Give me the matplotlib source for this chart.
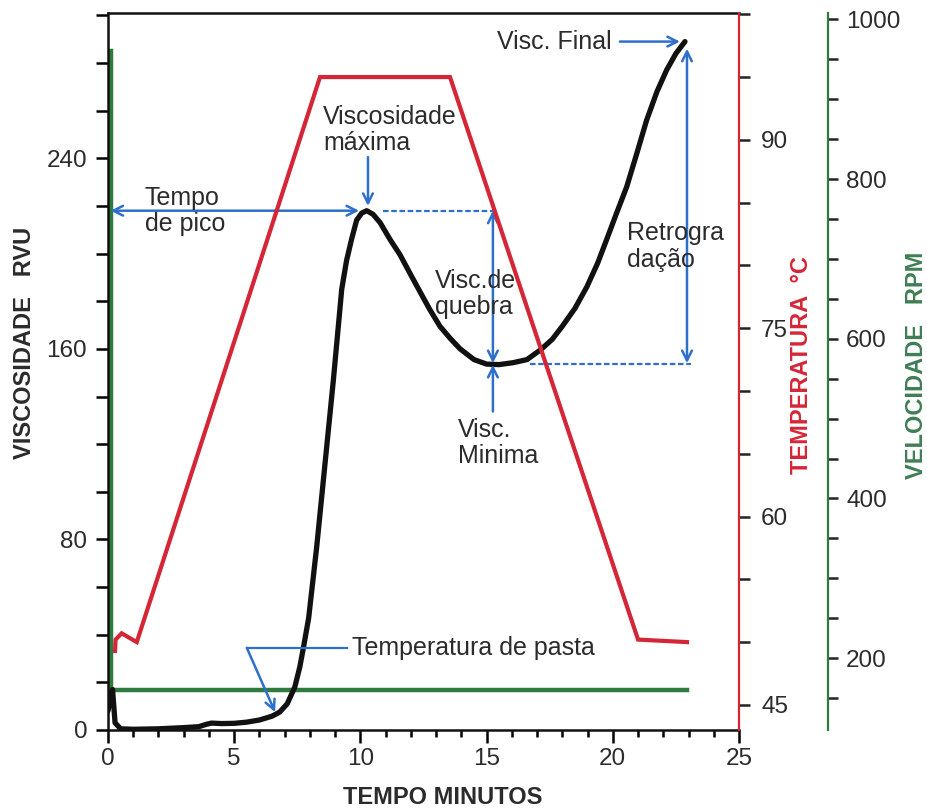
import matplotlib
matplotlib.use('Agg')
import matplotlib.pyplot as plt
from matplotlib.ticker import MultipleLocator

plt.rcParams['font.family'] = ['Liberation Sans', 'DejaVu Sans']

# ---------------- data ----------------
time_visc = [0.0, 0.1, 0.18, 0.28, 0.5, 1.0, 2.0, 3.0, 3.6, 3.9, 4.1, 4.5, 5.0, 5.5,
             6.0, 6.5, 6.8, 7.1, 7.4, 7.6, 7.75, 7.95, 8.27, 8.6, 8.93, 9.26,
             9.45, 9.65, 9.85, 10.05, 10.25, 10.5, 10.78, 11.17, 11.57, 12.0, 12.36,
             12.75, 13.15, 13.55, 13.95, 14.5, 15.0, 15.5, 16.05, 16.6, 17.15, 17.6,
             18.0, 18.5, 18.97, 19.4, 19.76, 20.15, 20.55, 20.95, 21.34, 21.75,
             22.13, 22.5, 22.86]
visc_rvu = [8, 14, 17, 3, 0.5, 0.3, 0.5, 1.0, 1.4, 2.4, 2.9, 2.7, 2.8, 3.3,
            4.2, 5.8, 7.5, 11, 18, 26.5, 35, 47, 77, 112, 147, 185,
            197, 206, 214, 217, 218, 216.5, 213, 206, 199.5, 191, 184,
            176.5, 169.5, 164.5, 160, 155.5, 153.6, 153.4, 154.2, 155.5, 159.7, 164,
            169.5, 177, 186, 196, 206, 217, 228, 242, 256, 268,
            277, 284, 289]

time_temp = [0.28, 0.3, 0.54, 1.14, 8.4, 13.55, 21.0, 22.94]
temp_c = [49.3, 50.2, 50.7, 50.0, 95.0, 95.0, 50.2, 50.0]

time_rpm = [0.12, 0.12, 22.94]
speed_rpm = [960, 160, 160]

# annotated characteristic points (min, RVU)
peak_time, peak_visc = 10.25, 218
min_time, min_visc = 15.25, 153.5
final_time, final_visc = 22.9, 289
paste_time, paste_visc = 6.62, 7.5

# ---------------- style ----------------
RED = '#d42636'
GREEN = '#2f7a3e'
GREEN_TXT = '#3f7f55'
BLUE = '#2f6fcc'
TXT = '#2b2b2b'

fig = plt.figure(figsize=(9.28, 8.09), dpi=100)
fig.patch.set_facecolor('white')
ax1 = fig.add_axes([108/928, 1-730/809, (739-108)/928, (730-13)/809])
ax2 = ax1.twinx()
ax3 = ax1.twinx()

ax3.set_zorder(1)
ax1.set_zorder(2)
ax2.set_zorder(3)
ax1.patch.set_visible(False)
ax2.patch.set_visible(False)
ax3.patch.set_visible(False)

# curves
ax3.plot(time_rpm, speed_rpm, color=GREEN, lw=3.2, solid_joinstyle='miter')
ax1.plot(time_visc, visc_rvu, color='#111111', lw=3.8, solid_joinstyle='round',
         solid_capstyle='round')
ax2.plot(time_temp, temp_c, color=RED, lw=3.0, solid_joinstyle='miter')

# limits
ax1.set_xlim(0, 25)
ax1.set_ylim(0, 301)
ax2.set_ylim(43, 100.1)
ax3.set_ylim(110, 1008)

# spines
for s in ['left', 'bottom', 'top']:
    ax1.spines[s].set_color('#111111')
    ax1.spines[s].set_linewidth(1.8)
ax1.spines['right'].set_visible(False)
for s in ['left', 'bottom', 'top']:
    ax2.spines[s].set_visible(False)
    ax3.spines[s].set_visible(False)
ax2.spines['right'].set_color(RED)
ax2.spines['right'].set_linewidth(1.6)
ax3.spines['right'].set_position(('axes', (828-108)/(739-108)))
ax3.spines['right'].set_color(GREEN)
ax3.spines['right'].set_linewidth(1.6)

# ticks
ax1.xaxis.set_major_locator(MultipleLocator(5))
ax1.xaxis.set_minor_locator(MultipleLocator(1))
ax1.yaxis.set_major_locator(MultipleLocator(80))
ax1.yaxis.set_minor_locator(MultipleLocator(20))
ax1.tick_params(axis='x', which='major', length=9, width=1.8, direction='out',
                labelsize=17.5, labelcolor=TXT, pad=4)
ax1.tick_params(axis='x', which='minor', length=5, width=1.8, direction='out')
ax1.tick_params(axis='y', which='both', length=9, width=1.8, direction='out',
                labelsize=17.5, labelcolor=TXT, pad=6)

ax2.yaxis.set_major_locator(MultipleLocator(15))
ax2.yaxis.set_minor_locator(MultipleLocator(5))
ax2.tick_params(axis='y', which='both', length=8, width=1.8, direction='out',
                color='#222222', labelsize=17.5, labelcolor=TXT, pad=8)

ax3.yaxis.set_major_locator(MultipleLocator(200))
ax3.yaxis.set_minor_locator(MultipleLocator(50))
ax3.tick_params(axis='y', which='both', length=7, width=1.8, direction='out',
                color='#222222', labelsize=17.5, labelcolor=TXT, pad=6)

# axis titles
fig.text(443/928, 1-797/809, 'TEMPO MINUTOS', ha='center', va='center',
         fontsize=17, fontweight='bold', color=TXT)
fig.text(25/928, 1-343/809, 'VISCOSIDADE   RVU', ha='center', va='center',
         rotation=90, fontsize=17, fontweight='bold', color=TXT)
fig.text(802/928, 1-365/809, 'TEMPERATURA  °C', ha='center', va='center',
         rotation=90, fontsize=17, fontweight='bold', color=RED)
fig.text(917/928, 1-365/809, 'VELOCIDADE   RPM', ha='center', va='center',
         rotation=90, fontsize=17, fontweight='bold', color=GREEN_TXT)

# ---------------- annotations ----------------
def arrow(ax, xy, xytext, style='->'):
    ax.annotate('', xy=xy, xytext=xytext,
                arrowprops=dict(arrowstyle=style + ',head_length=0.7,head_width=0.35',
                                color=BLUE, lw=1.8, shrinkA=0, shrinkB=0),
                zorder=6)

tf = dict(fontsize=18, color=TXT, linespacing=1.12, zorder=7)

# Tempo de pico
arrow(ax1, (0.1, peak_visc), (9.95, peak_visc), '<->')
ax1.text(1.45, peak_visc, 'Tempo\nde pico', ha='left', va='center', **tf)

# Viscosidade maxima
arrow(ax1, (10.3, 220), (10.3, 240.5))
ax1.text(8.52, 252, 'Viscosidade\nmáxima', ha='left', va='center', **tf)

# Visc. de quebra
ax1.plot([10.9, 15.3], [peak_visc, peak_visc], color=BLUE, lw=1.6,
         ls=(0, (2.5, 1.2)), zorder=5)
arrow(ax1, (min_time, peak_visc), (min_time, min_visc + 0.5), '<->')
ax1.text(12.96, 183, 'Visc.de\nquebra', ha='left', va='center', **tf)

# Visc. Minima
arrow(ax1, (min_time, min_visc - 0.2), (min_time, 133.7))
ax1.text(13.87, 120.5, 'Visc.\nMinima', ha='left', va='center', **tf)

# Retrogradacao
ax1.plot([16.7, 23.1], [min_visc, min_visc], color=BLUE, lw=1.6,
         ls=(0, (2.5, 1.2)), zorder=5)
arrow(ax1, (22.94, 286), (22.94, min_visc + 0.5), '<->')
ax1.text(20.56, 203, 'Retrogra\ndação', ha='left', va='center', **tf)

# Visc. Final
arrow(ax1, (22.66, final_visc), (20.28, final_visc))
ax1.text(19.97, final_visc, 'Visc. Final', ha='right', va='center', **tf)

# Temperatura de pasta
ax1.plot([9.47, 5.5], [34.5, 34.5], color=BLUE, lw=1.6, zorder=5)
arrow(ax1, (paste_time, paste_visc), (5.5, 34.5))
ax1.text(9.67, 34.5, 'Temperatura de pasta', ha='left', va='center', **tf)

fig.savefig('out.png', dpi=100, facecolor='white')
